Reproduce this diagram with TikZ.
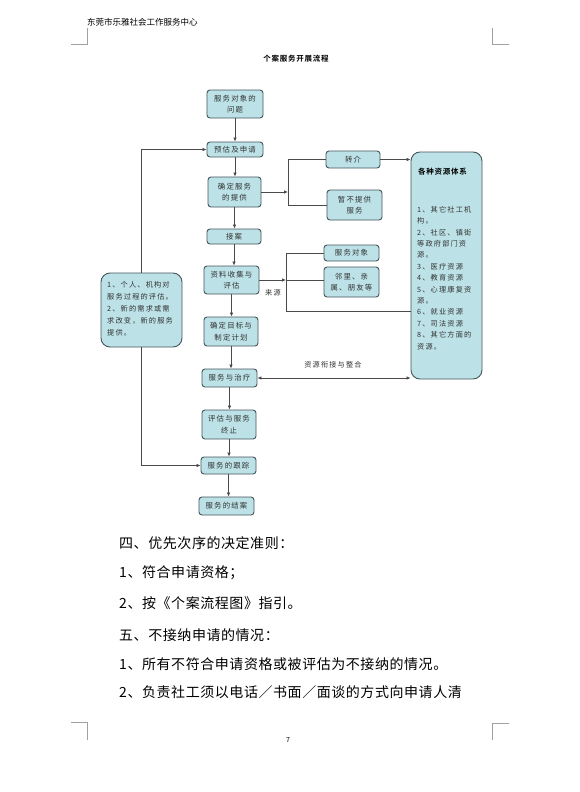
\documentclass[tikz,border=0pt]{standalone}
\usepackage{fontspec}
\usetikzlibrary{arrows.meta}
\newfontfamily\cjk{Noto Sans CJK SC}
\newfontfamily\cjkbox[LetterSpace=16]{Noto Sans CJK SC}
\newfontfamily\cjkbold[LetterSpace=10]{Noto Sans CJK SC Bold}
\newfontfamily\cjkbody[LetterSpace=4]{Noto Sans CJK SC}
\definecolor{boxfill}{HTML}{BCE1E6}
\definecolor{boxdraw}{HTML}{45565C}
\definecolor{linec}{HTML}{4A4A4A}
\definecolor{txtc}{HTML}{333333}
\definecolor{markc}{HTML}{A0A0A0}
\tikzset{
  fbox/.style={draw=boxdraw, fill=boxfill, rounded corners=3, line width=0.9,
    font=\cjkbox\fontsize{7.4}{11.5}\selectfont, text=txtc, align=center, inner sep=0},
  bigbox/.style={fbox, rounded corners=9},
  conn/.style={draw=linec, line width=0.8},
  arr/.style={conn, -{Latex[length=4,width=3.6]}},
  arrtwo/.style={conn, {Latex[length=4,width=3.6]}-{Latex[length=4,width=3.6]}},
  lbl/.style={font=\cjkbox\fontsize{7.2}{9}\selectfont, text=txtc, inner sep=0},
  body/.style={font=\cjkbody\fontsize{14}{16}\selectfont, text=black, anchor=west, inner sep=0},
  cornermark/.style={draw=markc, line width=0.8}
}
\begin{document}
\begin{tikzpicture}[x=1pt,y=-1pt]
\useasboundingbox (0,0) rectangle (579,792);
\fill[white] (0,0) rectangle (579,792);
% corner marks
\draw[cornermark] (87,28) -- (87,44) -- (71,44);
\draw[cornermark] (492,28) -- (492,44) -- (509,44);
\draw[cornermark] (71,722) -- (87,722) -- (87,740);
\draw[cornermark] (509,723) -- (492,723) -- (492,740);
% header & title
\node[anchor=west, inner sep=0, font=\cjk\fontsize{8.5}{10}\selectfont] (hdr) at (87,22) {东莞市乐雅社会工作服务中心};
\node[inner sep=0, font=\cjkbold\fontsize{7.5}{9}\selectfont] (ttl) at (296,59) {个案服务开展流程};
% main column
\node[fbox, minimum width=56, minimum height=28] (n1) at (235,104) {服务对象的\\问题};
\node[fbox, minimum width=56, minimum height=15] (n2) at (235,149.5) {预估及申请};
\node[fbox, minimum width=53, minimum height=30] (n3) at (234.5,192) {确定服务\\的提供};
\node[fbox, minimum width=54, minimum height=15] (n4) at (234,236.5) {接案};
\node[fbox, minimum width=55, minimum height=28] (n5) at (231.5,280) {资料收集与\\评估};
\node[fbox, minimum width=54, minimum height=29] (n6) at (231,331.5) {确定目标与\\制定计划};
\node[fbox, minimum width=55, minimum height=18] (n7) at (229.5,378) {服务与治疗};
\node[fbox, minimum width=54, minimum height=29] (n8) at (229,424.5) {评估与服务\\终止};
\node[fbox, minimum width=55, minimum height=17] (n9) at (228.5,465.5) {服务的跟踪};
\node[fbox, minimum width=55, minimum height=18] (n10) at (226.5,506) {服务的结案};
% right boxes
\node[fbox, minimum width=54, minimum height=17] (zj) at (353,159.5) {转介};
\node[fbox, minimum width=55, minimum height=30] (zb) at (354.5,205) {暂不提供\\服务};
\node[fbox, minimum width=55, minimum height=16] (fo) at (351.5,253) {服务对象};
\node[fbox, minimum width=55, minimum height=30] (ll) at (351.5,282) {邻里、亲\\属、朋友等};
% resource box
\node[bigbox, minimum width=71, minimum height=227] (res) at (446.5,265.5) {};
\node[anchor=west, inner sep=0, font=\cjkbold\fontsize{7.5}{9}\selectfont] (restitle) at (418,172) {各种资源体系};
\node[anchor=north west, inner sep=0, align=left, text=txtc, font=\cjkbox\fontsize{7.2}{11.4}\selectfont] (reslist) at (417,206) {1、其它社工机\\构。\\2、社区、镇街\\等政府部门资\\源。\\3、医疗资源\\4、教育资源\\5、心理康复资\\源。\\6、就业资源\\7、司法资源\\8、其它方面的\\资源。};
% left box
\node[bigbox, minimum width=81, minimum height=74] (lb) at (141.5,310) {};
\node[anchor=north west, inner sep=0, align=left, text=txtc, font=\cjkbox\fontsize{7.2}{12}\selectfont] (lbtext) at (107,281) {1、个人、机构对\\服务过程的评估。\\2、新的需求或需\\求改变，新的服务\\提供。};
% main arrows
\draw[arr] (n1.south) -- (n1.south |- n2.north);
\draw[arr] (n2.south) -- (n2.south |- n3.north);
\draw[arr] (n3.south) -- (n3.south |- n4.north);
\draw[arr] (n4.south) -- (n4.south |- n5.north);
\draw[arr] (n5.south) -- (n5.south |- n6.north);
\draw[arr] (n6.south) -- (n6.south |- n7.north);
\draw[arr] (n7.south) -- (n7.south |- n8.north);
\draw[arr] (n8.south) -- (n8.south |- n9.north);
\draw[arr] (n9.south) -- (n9.south |- n10.north);
% bracket 1
\coordinate (br1) at (288,192);
\draw[arr] (n3.east) -- (br1);
\draw[conn] (zj.west) -- (zj.west -| br1) -- (zb.west -| br1) -- (zb.west);
\draw[arr] (zj.east) -- (zj.east -| res.west);
% bracket 2
\coordinate (br2) at (286,280);
\coordinate (br3) at (286,311);
\draw[arr] (n5.east) -- (br2);
\draw[conn] (fo.west) -- (fo.west -| br2) -- (br3) -- (br3 -| res.west);
\draw[conn] (br2) -- (br2 -| ll.west);
\node[lbl] (src) at (273,293) {来源};
% resource link
\draw[arrtwo] (n7.east) -- (n7.east -| res.west);
\node[lbl] (link) at (333,365) {资源衔接与整合};
% left loops
\draw[arr] (lb.north) |- (n2.west);
\draw[arr] (lb.south) |- (n9.west);
% body text
\node[body] (t1) at (119,543) {四、优先次序的决定准则：};
\node[body] (t2) at (119,573) {1、符合申请资格；};
\node[body] (t3) at (119,603) {2、按《个案流程图》指引。};
\node[body] (t4) at (119,635) {五、不接纳申请的情况：};
\node[body] (t5) at (119,664) {1、所有不符合申请资格或被评估为不接纳的情况。};
\node[body] (t6) at (119,692) {2、负责社工须以电话／书面／面谈的方式向申请人清};
\node[inner sep=0, font=\cjk\fontsize{7}{8}\selectfont] (pg) at (288,740) {7};
\end{tikzpicture}
\end{document}
